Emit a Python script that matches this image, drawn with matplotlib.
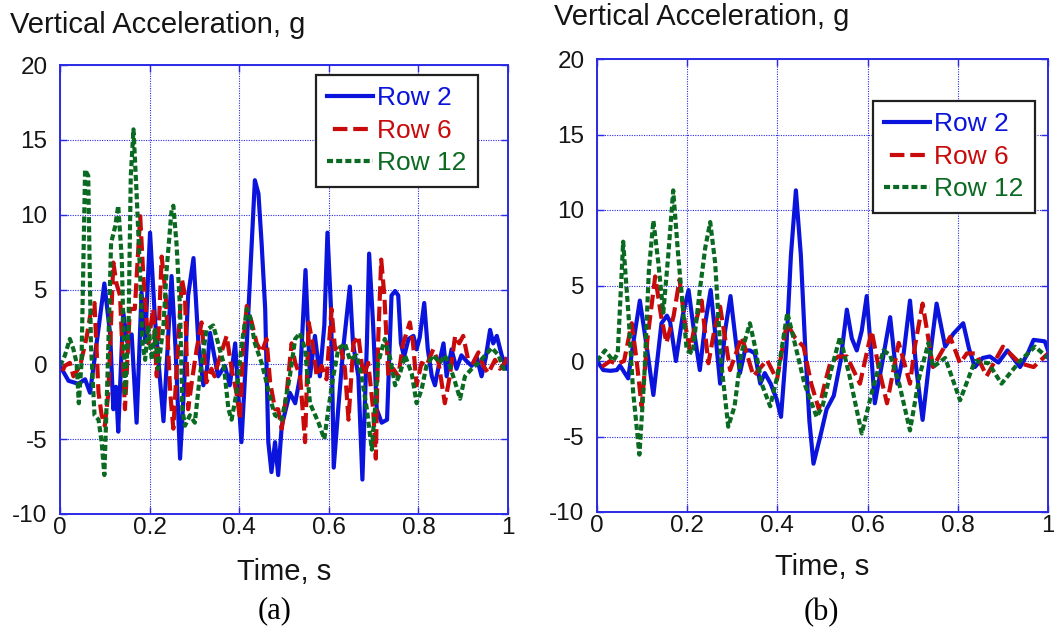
import matplotlib
matplotlib.use("Agg")
import matplotlib.pyplot as plt
import numpy as np

# ---------------- data ----------------
# Panel (a)
a_row2_t = [0.000, 0.019, 0.041, 0.056, 0.067, 0.080, 0.099, 0.112, 0.119, 0.125, 0.130, 0.141, 0.150, 0.160,
            0.171, 0.182, 0.190, 0.201, 0.212, 0.231, 0.240, 0.249, 0.258, 0.268, 0.277, 0.286, 0.298, 0.309,
            0.320, 0.328, 0.335, 0.346, 0.353, 0.368, 0.379, 0.391, 0.398, 0.405, 0.417, 0.428, 0.435, 0.443,
            0.450, 0.458, 0.465, 0.472, 0.480, 0.487, 0.495, 0.504, 0.513, 0.525, 0.536, 0.548, 0.558, 0.569,
            0.580, 0.590, 0.597, 0.605, 0.611, 0.621, 0.632, 0.647, 0.654, 0.666, 0.675, 0.685, 0.690, 0.699,
            0.707, 0.718, 0.730, 0.740, 0.748, 0.755, 0.761, 0.768, 0.778, 0.789, 0.796, 0.803, 0.813, 0.821,
            0.830, 0.837, 0.848, 0.856, 0.863, 0.874, 0.885, 0.896, 0.908, 0.919, 0.930, 0.941, 0.950, 0.960,
            0.967, 0.975, 0.986, 0.997, 1.000]
a_row2_v = [-0.1, -1.1, -1.3, -1.0, -1.9, 1.0, 5.4, 2.0, -3.0, -1.5, -4.5, 3.5, 1.5, 2.0,
            -3.9, 4.8, 1.5, 8.8, 3.0, -3.8, 1.0, 5.9, 1.0, -6.3, -1.5, 4.6, 7.1, 1.4,
            -1.4, -0.3, 2.1, 0.3, -0.8, -0.1, -1.4, 1.4, -2.0, -5.2, 1.4, 8.1, 12.3, 11.4,
            8.1, 3.7, -5.2, -7.2, -5.2, -7.4, -4.1, -3.0, -1.9, -2.6, -0.8, 6.3, -0.8, 1.9,
            -0.8, 2.6, 8.8, 3.7, -6.9, -3.0, 1.0, 5.2, 1.4, -0.8, -7.7, 1.4, 7.4, 2.6,
            -3.0, -3.9, -3.7, 4.6, 4.9, 4.6, 1.4, 0.5, 1.7, 1.9, 1.0, 1.8, 4.1, 1.0,
            -0.8, -1.4, 0.3, 1.4, -0.8, 1.0, -0.3, 0.6, 0.2, -0.1, 0.5, -0.8, 0.4, 2.3,
            1.4, 1.9, 0.6, -0.3, 0.0]

a_row6_t = [0.000, 0.011, 0.022, 0.030, 0.045, 0.060, 0.067, 0.077, 0.086, 0.093, 0.100, 0.108, 0.119, 0.126,
            0.134, 0.145, 0.156, 0.167, 0.179, 0.186, 0.197, 0.208, 0.216, 0.227, 0.236, 0.246, 0.253, 0.262,
            0.272, 0.279, 0.286, 0.295, 0.305, 0.316, 0.327, 0.338, 0.345, 0.353, 0.372, 0.383, 0.394, 0.402,
            0.409, 0.417, 0.428, 0.439, 0.450, 0.461, 0.469, 0.480, 0.487, 0.495, 0.506, 0.517, 0.525, 0.536,
            0.547, 0.555, 0.564, 0.573, 0.584, 0.595, 0.606, 0.614, 0.625, 0.636, 0.644, 0.655, 0.666, 0.677,
            0.688, 0.699, 0.705, 0.710, 0.717, 0.724, 0.733, 0.744, 0.755, 0.766, 0.781, 0.788, 0.796, 0.807,
            0.818, 0.833, 0.845, 0.859, 0.870, 0.882, 0.891, 0.900, 0.911, 0.922, 0.934, 0.945, 0.956, 0.971,
            0.982, 0.993, 1.000]
a_row6_v = [-0.8, -0.1, 0.1, -0.8, -0.1, 1.9, 3.2, 4.1, -1.9, -3.4, -4.1, -1.9, 6.8, 5.4,
            4.6, -3.0, 3.7, 3.7, 9.9, 5.9, 1.4, 3.7, -0.8, 7.2, 4.6, -1.9, -4.3, 0.5,
            5.7, 4.6, -3.0, -1.0, 1.0, 2.8, -1.2, -0.3, -0.8, 0.1, 1.9, -0.3, -1.9, -3.7,
            1.4, 3.9, 2.8, 1.4, 0.8, 1.7, -1.2, -3.0, -3.0, -4.3, -1.9, 1.4, 0.1, -0.8,
            -5.2, 2.8, 1.4, -0.8, -0.1, -1.0, 3.7, 1.0, 1.4, -0.3, -3.7, 1.4, 1.9, -0.8,
            0.1, -3.0, -6.3, 1.4, 7.0, 4.6, -0.8, -0.3, -0.8, 1.4, 2.8, 1.4, -1.4, 0.1,
            -0.1, 1.0, 0.1, -2.6, -0.8, 1.9, 1.4, 1.9, 0.3, 0.1, 0.8, -0.1, -0.6, 0.3,
            -0.3, 0.1, 0.6]

a_row12_t = [0.000, 0.011, 0.022, 0.030, 0.037, 0.042, 0.048, 0.056, 0.063, 0.069, 0.077, 0.086, 0.093, 0.099,
             0.106, 0.114, 0.123, 0.130, 0.138, 0.145, 0.153, 0.158, 0.164, 0.171, 0.179, 0.184, 0.190, 0.197,
             0.205, 0.212, 0.219, 0.231, 0.238, 0.249, 0.253, 0.260, 0.268, 0.273, 0.279, 0.290, 0.301, 0.312,
             0.327, 0.342, 0.353, 0.365, 0.376, 0.383, 0.394, 0.406, 0.417, 0.424, 0.435, 0.450, 0.461, 0.472,
             0.480, 0.495, 0.502, 0.513, 0.525, 0.536, 0.547, 0.558, 0.577, 0.590, 0.599, 0.610, 0.621, 0.636,
             0.647, 0.662, 0.673, 0.685, 0.696, 0.703, 0.710, 0.725, 0.737, 0.748, 0.759, 0.770, 0.785, 0.796,
             0.807, 0.818, 0.833, 0.848, 0.859, 0.870, 0.882, 0.893, 0.904, 0.919, 0.934, 0.949, 0.964, 0.979,
             0.990, 1.000]
a_row12_v = [-0.1, 0.6, 1.7, 1.0, 0.1, -2.6, 0.1, 13.0, 12.6, 1.4, -3.4, -3.7, -5.2, -7.4,
             -0.8, 8.1, 9.2, 10.6, 7.0, -1.9, 2.6, 12.6, 15.7, 11.4, 5.9, 1.4, 0.3, 2.6,
             0.3, 2.3, -0.3, 2.6, 6.3, 10.3, 10.6, 8.1, 3.7, -3.0, -4.1, -3.4, -3.9, -0.8,
             2.3, 2.6, 1.4, 0.1, -3.0, -3.7, -1.9, 1.4, 3.7, 3.2, 1.4, 0.1, -1.2, -2.6,
             -3.4, -3.7, -2.6, -0.8, 1.7, 2.1, 1.0, -2.6, -3.9, -5.0, -3.0, -0.8, 1.0, 1.4,
             0.3, 0.6, -0.8, -3.0, -5.7, -3.0, 0.1, 1.7, 0.4, -1.4, -0.6, 0.6, -0.6, -2.6,
             -1.7, -0.1, 0.6, 0.1, 0.6, -0.1, -1.2, -2.3, -0.8, -0.3, 0.1, 0.6, 1.1, 0.6,
             -0.3, -0.3]

# Panel (b)
b_row2_t = [0.000, 0.014, 0.030, 0.044, 0.051, 0.069, 0.082, 0.095, 0.110, 0.125, 0.143, 0.155, 0.162, 0.175,
            0.190, 0.203, 0.215, 0.228, 0.240, 0.252, 0.265, 0.273, 0.284, 0.296, 0.307, 0.317, 0.328, 0.339,
            0.350, 0.362, 0.372, 0.385, 0.398, 0.408, 0.420, 0.430, 0.441, 0.452, 0.462, 0.471, 0.480, 0.495,
            0.509, 0.525, 0.540, 0.554, 0.565, 0.576, 0.587, 0.598, 0.608, 0.616, 0.630, 0.650, 0.666, 0.680,
            0.694, 0.708, 0.722, 0.735, 0.753, 0.772, 0.790, 0.812, 0.825, 0.838, 0.855, 0.871, 0.890, 0.910,
            0.938, 0.955, 0.968, 0.993, 1.000]
b_row2_v = [0.0, -0.6, -0.65, -0.6, -0.3, -1.15, 1.5, 4.0, 1.0, -2.25, 2.5, 3.0, 2.6, 0.0,
            3.0, 4.7, 2.0, -0.6, 2.5, 4.7, 1.0, -1.5, 2.0, 4.3, 1.5, -0.8, 0.7, 0.7,
            0.5, -1.5, -0.8, -1.5, -2.5, -3.7, 1.0, 7.0, 11.3, 7.0, 0.7, -4.0, -6.8, -5.0,
            -3.2, -2.3, 0.0, 3.4, 1.5, 0.7, 2.0, 4.3, 0.5, -2.8, -0.5, 2.9, -1.5, 0.5,
            4.0, -0.5, -3.9, -0.5, 3.8, 0.95, 1.8, 2.5, 0.8, -0.4, 0.2, 0.3, -0.1, 0.7,
            -0.4, 0.5, 1.4, 1.3, 0.7]

b_row6_t = [0.000, 0.015, 0.029, 0.044, 0.060, 0.077, 0.088, 0.099, 0.112, 0.129, 0.142, 0.154, 0.170, 0.183,
            0.195, 0.206, 0.218, 0.232, 0.247, 0.260, 0.273, 0.295, 0.321, 0.347, 0.377, 0.399, 0.421, 0.440,
            0.458, 0.475, 0.492, 0.505, 0.517, 0.535, 0.554, 0.583, 0.609, 0.625, 0.643, 0.669, 0.694, 0.705,
            0.722, 0.745, 0.783, 0.805, 0.820, 0.840, 0.864, 0.900, 0.938, 0.968, 1.000]
b_row6_v = [-0.6, -0.3, 0.0, -0.2, 0.0, 2.5, 0.0, -3.0, 1.5, 5.6, 3.0, 1.2, 3.0, 5.4,
            2.5, 0.7, 2.5, 4.0, -0.15, 2.0, 3.6, -0.6, 1.6, -1.0, 0.07, -1.25, 2.5, 1.5,
            0.95, -1.5, -3.2, -1.5, -0.15, 0.3, 0.3, -1.5, 2.0, -0.5, -2.8, 1.2, -1.5, 1.0,
            3.8, -0.4, 1.6, -0.15, 0.5, 0.5, -1.0, 0.95, -0.15, -0.4, 0.5]

b_row12_t = [0.000, 0.018, 0.036, 0.046, 0.058, 0.070, 0.080, 0.094, 0.105, 0.115, 0.125, 0.136, 0.147, 0.158,
             0.169, 0.180, 0.199, 0.212, 0.228, 0.240, 0.251, 0.262, 0.275, 0.291, 0.305, 0.320, 0.339, 0.350,
             0.365, 0.384, 0.400, 0.422, 0.440, 0.460, 0.487, 0.500, 0.520, 0.539, 0.560, 0.587, 0.610, 0.635,
             0.650, 0.670, 0.694, 0.715, 0.735, 0.745, 0.772, 0.805, 0.838, 0.868, 0.897, 0.938, 0.971, 1.000]
b_row12_v = [0.0, 0.7, 0.0, 0.5, 7.9, 3.0, -2.0, -6.2, -1.0, 6.0, 9.3, 6.5, 3.2, 7.0,
             11.3, 7.0, 0.7, 0.5, 4.7, 7.5, 9.2, 6.5, 0.0, -4.35, -3.0, 0.5, 2.5, 1.0,
             -1.5, -3.0, -1.0, 3.2, 1.0, -1.5, -3.7, -3.0, -0.5, 1.6, -1.0, -4.8, -2.0, 0.7,
             0.4, -1.5, -4.6, -1.0, 1.2, -0.4, 0.2, -2.6, 0.0, -0.15, -1.5, 0.0, 0.95, 0.2]

series_labels = ["Row 2", "Row 6", "Row 12"]
x_ticks = [0, 0.2, 0.4, 0.6, 0.8, 1]
x_tick_labels = ["0", "0.2", "0.4", "0.6", "0.8", "1"]
y_ticks = [-10, -5, 0, 5, 10, 15, 20]
y_tick_labels = ["-10", "-5", "0", "5", "10", "15", "20"]
y_label = "Vertical Acceleration, g"
x_label = "Time, s"
panel_labels = ["(a)", "(b)"]

# ---------------- style ----------------
W, H = 1054, 634
DPI = 100
SANS = ["Liberation Sans", "DejaVu Sans"]
SERIF = ["Liberation Serif", "DejaVu Serif"]
plt.rcParams["font.family"] = SANS

C_BLUE = "#0a14dc"
C_RED = "#c80a0a"
C_GREEN = "#0b6a22"
C_AX = "#2a2ae6"
C_TXT = "#151515"

styles = [
    dict(color=C_BLUE, linestyle="-", linewidth=3.0),
    dict(color=C_RED, linestyle=(3.5, (3.5, 1.4)), linewidth=3.0),
    dict(color=C_GREEN, linestyle=(0, (1.45, 0.75)), linewidth=3.0),
]

fig = plt.figure(figsize=(W / DPI, H / DPI), dpi=DPI)


def px_rect(x0, y0, x1, y1):
    return [x0 / W, 1 - y1 / H, (x1 - x0) / W, (y1 - y0) / H]


panels = [
    dict(rect=px_rect(60, 65, 508, 514),
         data=[(a_row2_t, a_row2_v), (a_row6_t, a_row6_v), (a_row12_t, a_row12_v)],
         title_xy=(10, 33), xlabel_xy=(284, 580), plabel_xy=(275, 618),
         legend_xy=(316, 75)),
    dict(rect=px_rect(597, 59, 1048, 512),
         data=[(b_row2_t, b_row2_v), (b_row6_t, b_row6_v), (b_row12_t, b_row12_v)],
         title_xy=(554, 25), xlabel_xy=(822, 575), plabel_xy=(821, 620),
         legend_xy=(873, 101)),
]

for p, plabel in zip(panels, panel_labels):
    ax = fig.add_axes(p["rect"])
    lines = []
    for (t, v), st, lab in zip(p["data"], styles, series_labels):
        ln, = ax.plot(t, v, label=lab, solid_joinstyle="round", dash_capstyle="butt", **st)
        lines.append(ln)
    ax.set_xlim(0, 1)
    ax.set_ylim(-10, 20)
    ax.set_xticks(x_ticks)
    ax.set_xticklabels(x_tick_labels)
    ax.set_yticks(y_ticks)
    ax.set_yticklabels(y_tick_labels)
    ax.grid(True, color=C_AX, linestyle=(0, (1, 1.2)), linewidth=0.8)
    ax.set_axisbelow(True)
    for s in ax.spines.values():
        s.set_color(C_AX)
        s.set_linewidth(1.4)
    ax.tick_params(axis="both", direction="in", length=5, width=1.0, color=C_AX,
                   labelcolor=C_TXT, labelsize=17.5, top=True, right=True)
    ax.tick_params(axis="y", pad=9)
    ax.tick_params(axis="x", pad=2)

    leg = ax.legend(handles=lines, loc="upper left",
                    bbox_to_anchor=(p["legend_xy"][0] / W, 1 - p["legend_xy"][1] / H),
                    bbox_transform=fig.transFigure, prop={"family": SANS, "size": 19},
                    labelcolor="linecolor", frameon=True, fancybox=False, shadow=False,
                    handlelength=1.75, handletextpad=0.15, labelspacing=0.33,
                    borderpad=0.42, borderaxespad=0.0, framealpha=1.0)
    leg.get_frame().set_edgecolor("#202020")
    leg.get_frame().set_linewidth(1.6)

    fig.text(p["title_xy"][0] / W, 1 - p["title_xy"][1] / H, y_label, ha="left", va="baseline",
             fontsize=21, color=C_TXT)
    fig.text(p["xlabel_xy"][0] / W, 1 - p["xlabel_xy"][1] / H, x_label, ha="center", va="baseline",
             fontsize=21, color=C_TXT)
    fig.text(p["plabel_xy"][0] / W, 1 - p["plabel_xy"][1] / H, plabel, ha="center", va="baseline",
             fontsize=22, color="black", family=SERIF)

fig.savefig("out.png", dpi=DPI)
